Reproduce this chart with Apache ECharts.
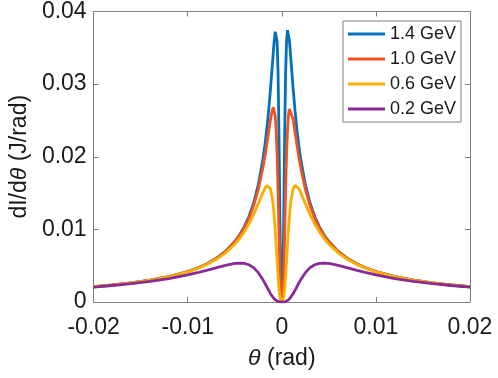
<!DOCTYPE html>
<html>
<head>
<meta charset="utf-8">
<script src="https://cdn.jsdelivr.net/npm/echarts@6/dist/echarts.min.js"></script>
<style>
  html, body { margin: 0; padding: 0; background: #fff; }
  #chart { width: 498px; height: 378px; }
</style>
</head>
<body>
<div id="chart"></div>
<script>
// angle samples (rad)
const theta = [-0.02, -0.018, -0.016, -0.014, -0.012, -0.01, -0.009, -0.008, -0.007, -0.006,
  -0.005, -0.0045, -0.004, -0.0035, -0.003, -0.0025, -0.002, -0.0018, -0.0016, -0.0014,
  -0.0012, -0.001, -0.0009, -0.0008, -0.0007, -0.0006, -0.0005, -0.0004, -0.0003, -0.0002,
  -0.0001, 0,
  0.0001, 0.0002, 0.0003, 0.0004, 0.0005, 0.0006, 0.0007, 0.0008, 0.0009, 0.001,
  0.0012, 0.0014, 0.0016, 0.0018, 0.002, 0.0025, 0.003, 0.0035, 0.004, 0.0045,
  0.005, 0.006, 0.007, 0.008, 0.009, 0.01, 0.012, 0.014, 0.016, 0.018, 0.02];

const gev14 = [0.00210, 0.00234, 0.00263, 0.00300, 0.00350, 0.00420, 0.00466, 0.00524, 0.00598, 0.00697,
  0.00833, 0.00923, 0.01035, 0.01177, 0.01363, 0.01615, 0.01972, 0.02158, 0.02378, 0.02637,
  0.02940, 0.03280, 0.03451, 0.03607, 0.03721, 0.03742, 0.03588, 0.03139, 0.02286, 0.01125,
  0.00206, 0,
  0.00206, 0.01125, 0.02286, 0.03139, 0.03588, 0.03742, 0.03721, 0.03607, 0.03451, 0.03280,
  0.02940, 0.02637, 0.02378, 0.02158, 0.01972, 0.01615, 0.01363, 0.01177, 0.01035, 0.00923,
  0.00833, 0.00697, 0.00598, 0.00524, 0.00466, 0.00420, 0.00350, 0.00300, 0.00263, 0.00234, 0.00210];

const gev10 = [0.00210, 0.00234, 0.00263, 0.00300, 0.00350, 0.00419, 0.00465, 0.00522, 0.00595, 0.00692,
  0.00825, 0.00912, 0.01019, 0.01153, 0.01326, 0.01552, 0.01856, 0.02004, 0.02168, 0.02343,
  0.02516, 0.02651, 0.02679, 0.02659, 0.02565, 0.02363, 0.02021, 0.01525, 0.00926, 0.00374,
  0.00058, 0,
  0.00058, 0.00374, 0.00926, 0.01525, 0.02021, 0.02363, 0.02565, 0.02659, 0.02679, 0.02651,
  0.02516, 0.02343, 0.02168, 0.02004, 0.01856, 0.01552, 0.01326, 0.01153, 0.01019, 0.00912,
  0.00825, 0.00692, 0.00595, 0.00522, 0.00465, 0.00419, 0.00350, 0.00300, 0.00263, 0.00234, 0.00210];

const gev06 = [0.00210, 0.00233, 0.00262, 0.00299, 0.00347, 0.00415, 0.00460, 0.00515, 0.00584, 0.00674,
  0.00795, 0.00872, 0.00964, 0.01073, 0.01203, 0.01354, 0.01511, 0.01565, 0.01602, 0.01607,
  0.01557, 0.01421, 0.01309, 0.01163, 0.00984, 0.00778, 0.00558, 0.00347, 0.00173, 0.00058,
  0.00008, 0,
  0.00008, 0.00058, 0.00173, 0.00347, 0.00558, 0.00778, 0.00984, 0.01163, 0.01309, 0.01421,
  0.01557, 0.01607, 0.01602, 0.01565, 0.01511, 0.01354, 0.01203, 0.01073, 0.00964, 0.00872,
  0.00795, 0.00674, 0.00584, 0.00515, 0.00460, 0.00415, 0.00347, 0.00299, 0.00262, 0.00233, 0.00210];

const gev02 = [0.00206, 0.00227, 0.00252, 0.00284, 0.00323, 0.00373, 0.00403, 0.00436, 0.00471, 0.00505,
  0.00531, 0.00536, 0.00532, 0.00513, 0.00473, 0.00404, 0.00305, 0.00258, 0.00210, 0.00161,
  0.00115, 0.000747, 0.000573, 0.000422, 0.000295, 0.000193, 0.000115, 0.000061, 0.000026, 0.000008,
  0.000001, 0,
  0.000001, 0.000008, 0.000026, 0.000061, 0.000115, 0.000193, 0.000295, 0.000422, 0.000573, 0.000747,
  0.00115, 0.00161, 0.00210, 0.00258, 0.00305, 0.00404, 0.00473, 0.00513, 0.00532, 0.00536,
  0.00531, 0.00505, 0.00471, 0.00436, 0.00403, 0.00373, 0.00323, 0.00284, 0.00252, 0.00227, 0.00206];

const seriesNames = ["1.4 GeV", "1.0 GeV", "0.6 GeV", "0.2 GeV"];
const seriesValues = [gev14, gev10, gev06, gev02];
const colors = ["#0072BD", "#F4511E", "#F7B000", "#8A2A98"];

const xTicks = [-0.02, -0.01, 0, 0.01, 0.02];
const yTicks = [0, 0.01, 0.02, 0.03, 0.04];

const font = "Liberation Sans";
const axisGray = "#808080";

function pairs(vals) {
  return theta.map((t, i) => [t, vals[i]]);
}

function xAxisDef(pos, showLabel) {
  return {
    type: "value",
    position: pos,
    min: xTicks[0],
    max: xTicks[xTicks.length - 1],
    interval: 0.01,
    axisLine: { show: true, onZero: false, lineStyle: { color: axisGray, width: 1 } },
    axisTick: { show: true, inside: true, length: 5, lineStyle: { color: axisGray } },
    splitLine: { show: false },
    axisLabel: {
      show: showLabel,
      margin: 14,
      fontFamily: font,
      fontSize: 23,
      color: "#1a1a1a",
      formatter: (v) => String(+v.toFixed(2)),
    },
  };
}

function yAxisDef(pos, showLabel) {
  return {
    type: "value",
    position: pos,
    min: yTicks[0],
    max: yTicks[yTicks.length - 1],
    interval: 0.01,
    axisLine: { show: true, onZero: false, lineStyle: { color: axisGray, width: 1 } },
    axisTick: { show: true, inside: true, length: 5, lineStyle: { color: axisGray } },
    splitLine: { show: false },
    axisLabel: {
      show: showLabel,
      margin: 7,
      fontFamily: font,
      fontSize: 23,
      color: "#1a1a1a",
      formatter: (v) => String(+v.toFixed(2)),
    },
  };
}

const xBottom = xAxisDef("bottom", true);
xBottom.name = "{i|θ}{n| (rad)}";
xBottom.nameLocation = "middle";
xBottom.nameGap = 45;
xBottom.nameTextStyle = {
  rich: {
    i: { fontFamily: font, fontSize: 23, fontStyle: "italic", color: "#1a1a1a" },
    n: { fontFamily: font, fontSize: 23, color: "#1a1a1a" },
  },
};

const yLeft = yAxisDef("left", true);
yLeft.name = "{n|dI/d}{i|θ}{n| (J/rad)}";
yLeft.nameLocation = "middle";
yLeft.nameRotate = 90;
yLeft.nameGap = 61;
yLeft.nameTextStyle = {
  rich: {
    i: { fontFamily: font, fontSize: 23, fontStyle: "italic", color: "#1a1a1a" },
    n: { fontFamily: font, fontSize: 23, color: "#1a1a1a" },
  },
};

const chart = echarts.init(document.getElementById("chart"));
chart.setOption({
  animation: false,
  backgroundColor: "#fff",
  grid: { left: 89, right: 28, top: 11, bottom: 76 },
  legend: {
    left: 343,
    top: 21,
    orient: "vertical",
    padding: [3, 5, 3, 5],
    itemGap: 5,
    itemWidth: 37,
    itemHeight: 3,
    icon: "rect",
    backgroundColor: "#fff",
    borderColor: axisGray,
    borderWidth: 1,
    borderRadius: 0,
    textStyle: { fontFamily: font, fontSize: 18, lineHeight: 20, height: 20, color: "#1a1a1a" },
    data: seriesNames,
  },
  xAxis: [xBottom, xAxisDef("top", false)],
  yAxis: [yLeft, yAxisDef("right", false)],
  series: seriesNames.map((name, k) => ({
    name: name,
    type: "line",
    symbol: "none",
    data: pairs(seriesValues[k]),
    color: colors[k],
    lineStyle: { width: 2.8, color: colors[k] },
    z: 2 + k,
  })),
});
</script>
</body>
</html>
